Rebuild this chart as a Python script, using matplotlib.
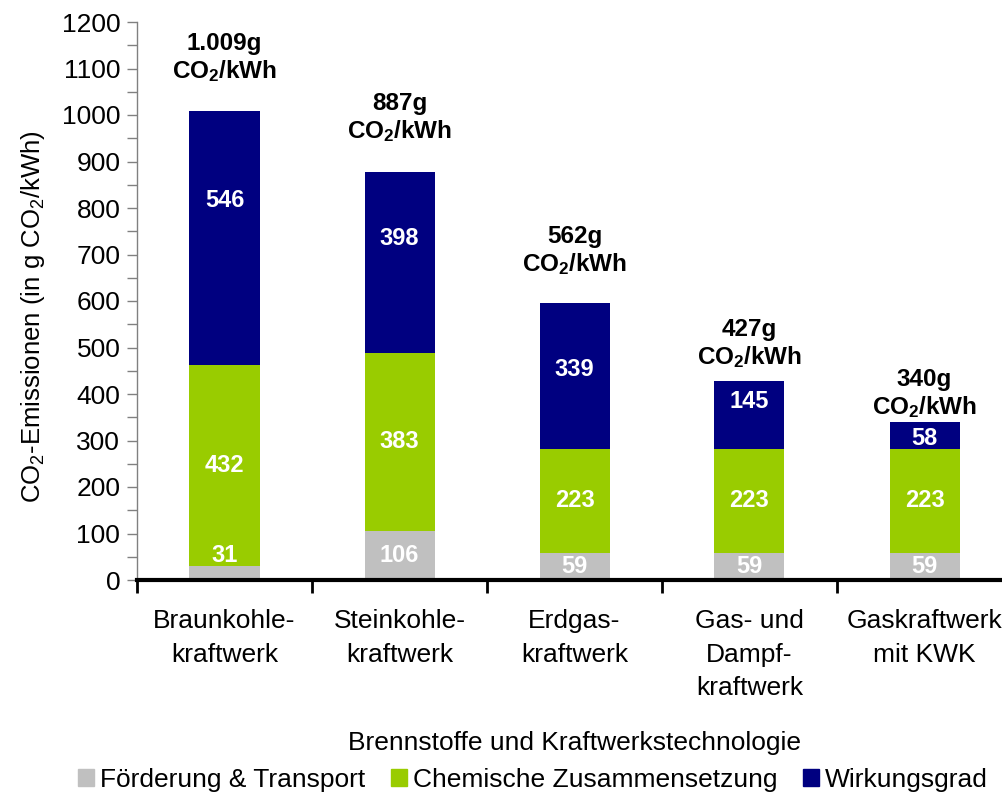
import numpy as np
import matplotlib
matplotlib.use('Agg')
import matplotlib.pyplot as plt
from matplotlib.patches import Patch

plt.rcParams['font.family'] = ['Liberation Sans', 'DejaVu Sans']
plt.rcParams['mathtext.default'] = 'regular'

categories = ['Braunkohle-\nkraftwerk', 'Steinkohle-\nkraftwerk', 'Erdgas-\nkraftwerk',
              'Gas- und\nDampf-\nkraftwerk', 'Gaskraftwerk\nmit KWK']
foerderung = [31, 106, 59, 59, 59]
chemie = [432, 383, 223, 223, 223]
# blue segments as drawn in the picture (labels differ for two bars)
wirkung = [546, 388, 314, 145, 58]
wirkung_labels = ['546', '398', '339', '145', '58']
total_labels = ['1.009g', '887g', '562g', '427g', '340g']
series_names = ['Förderung & Transport', 'Chemische Zusammensetzung', 'Wirkungsgrad']

c_gray = '#C0C0C0'
c_green = '#99CC00'
c_blue = '#000080'

fig = plt.figure(figsize=(10.03, 7.94), dpi=100)
ax = fig.add_axes([137 / 1003, 214 / 794, 875 / 1003, 558 / 794])

x = np.arange(len(categories))
w = 0.4
b1 = np.array(foerderung)
b2 = b1 + np.array(chemie)
tot = b2 + np.array(wirkung)

ax.bar(x, foerderung, w, color=c_gray, zorder=2)
ax.bar(x, chemie, w, bottom=b1, color=c_green, zorder=2)
ax.bar(x, wirkung, w, bottom=b2, color=c_blue, zorder=2)

lab = dict(color='white', fontsize=17, fontweight='bold', ha='center', va='center', zorder=3)
gray_shift = [38, 0, 0, 0, 0]
blue_shift = [80, 52, 13, 30, -6]
for i in range(len(x)):
    ax.text(x[i], b1[i] / 2 + gray_shift[i], str(foerderung[i]), **lab)
    ax.text(x[i], b1[i] + chemie[i] / 2, str(chemie[i]), **lab)
    ax.text(x[i], b2[i] + wirkung[i] / 2 + blue_shift[i], wirkung_labels[i], **lab)

top_gap = [53, 54, 52, 37, 28]
for i in range(len(x)):
    ax.annotate(total_labels[i] + '\nCO$_2$/kWh', (x[i], tot[i]), xytext=(0, top_gap[i] * 0.72),
                textcoords='offset points', ha='center', va='center', fontsize=17.5,
                fontweight='bold', linespacing=1.15)

ax.set_ylim(0, 1200)
ax.set_xlim(-0.5, len(x) - 0.5)
ax.set_yticks(np.arange(0, 1201, 100))
ax.set_yticks(np.arange(50, 1200, 100), minor=True)
ax.tick_params(axis='y', which='both', labelsize=19, color='#808080', length=7, width=1, pad=5)
ax.set_xticks(x)
ax.set_xticklabels(categories, fontsize=19, linespacing=1.5, va='top')
ax.tick_params(axis='x', which='major', length=0, pad=21)
ax.set_xticks(np.arange(-0.5, len(x), 1), minor=True)
ax.tick_params(axis='x', which='minor', length=9, width=2, color='black')

for s in ['top', 'right']:
    ax.spines[s].set_visible(False)
ax.spines['left'].set_color('#808080')
ax.spines['left'].set_linewidth(1)
ax.spines['bottom'].set_linewidth(3)
ax.spines['bottom'].set_color('black')

ax.set_ylabel('CO$_2$-Emissionen (in g CO$_2$/kWh)', fontsize=18.5)
ax.yaxis.set_label_coords(-0.103, 0.473)
ax.set_xlabel('Brennstoffe und Kraftwerkstechnologie', fontsize=19, labelpad=22)

handles = [Patch(color=c_gray, label=series_names[0]),
           Patch(color=c_green, label=series_names[1]),
           Patch(color=c_blue, label=series_names[2])]
fig.legend(handles=handles, loc='center', bbox_to_anchor=(533 / 1003, 1 - 780 / 794), ncol=3,
           frameon=False, fontsize=19, handlelength=0.6, handleheight=0.6,
           handletextpad=0.25, columnspacing=0.95, borderaxespad=0)

fig.savefig('out.png', dpi=100)
